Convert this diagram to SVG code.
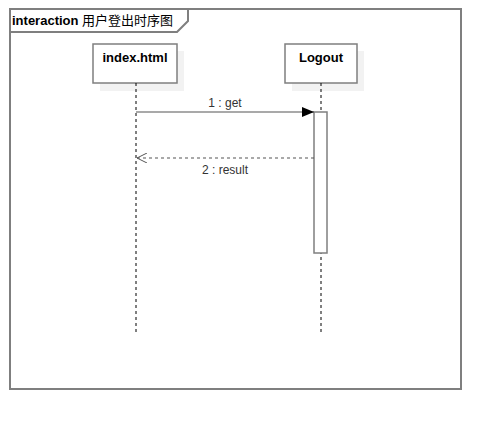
<svg xmlns="http://www.w3.org/2000/svg" width="501" height="429" viewBox="0 0 501 429">
<defs>
<style>
.frame{fill:none;stroke:#7f7f7f;stroke-width:2}
.box{fill:#fff;stroke:#7f7f7f;stroke-width:1.5}
.shadow{fill:#f2f2f2}
.life{stroke:#000;stroke-width:1;stroke-dasharray:3,3;fill:none}
.lbl{font-family:"Liberation Sans","Noto Sans CJK SC",Arial,sans-serif;font-size:12px;fill:#333}
.name{font-family:"Liberation Sans",Arial,sans-serif;font-size:13px;font-weight:bold;fill:#000}
</style>
<marker id="filled" markerWidth="12" markerHeight="10" refX="12" refY="5" orient="auto" markerUnits="userSpaceOnUse">
<path d="M0,0 L12,5 L0,10 Z" fill="#000"/>
</marker>
<marker id="open" markerWidth="12" markerHeight="10" refX="10" refY="5" orient="auto" markerUnits="userSpaceOnUse">
<path d="M0,0 L10,5 L0,10" fill="none" stroke="#555" stroke-width="1"/>
</marker>
</defs>
<rect width="501" height="429" fill="#fff"/>
<g id="frame">
<rect class="frame" x="10" y="9" width="451" height="380"/>
<path class="frame" d="M10,32 L177,32 L188,21 L188,9" stroke-width="1.5"/>
<text x="12" y="25" font-family="'Liberation Sans','Noto Sans CJK SC',Arial,sans-serif" font-size="13" fill="#000"><tspan font-weight="bold">interaction</tspan> 用户登出时序图</text>
</g>
<g id="index">
<rect class="shadow" x="100" y="51" width="84" height="40"/>
<rect class="box" x="93" y="44" width="84" height="39"/>
<text class="name" x="135" y="62" text-anchor="middle">index.html</text>
<line class="life" x1="136" y1="83" x2="136" y2="332"/>
</g>
<g id="logout">
<rect class="shadow" x="292" y="51" width="72" height="40"/>
<rect class="box" x="285" y="44" width="72" height="39"/>
<text class="name" x="321" y="62" text-anchor="middle">Logout</text>
<line class="life" x1="321" y1="83" x2="321" y2="332"/>
<rect class="box" x="314" y="112" width="13" height="141"/>
</g>
<g id="connectors">
<line x1="136" y1="112" x2="314" y2="112" stroke="#555" stroke-width="1.2" marker-end="url(#filled)"/>
<text class="lbl" x="225" y="107" text-anchor="middle">1 : get</text>
<line x1="314" y1="158" x2="137" y2="158" stroke="#555" stroke-width="1.2" stroke-dasharray="3,3" marker-end="url(#open)"/>
<text class="lbl" x="225" y="174" text-anchor="middle">2 : result</text>
</g>
</svg>
